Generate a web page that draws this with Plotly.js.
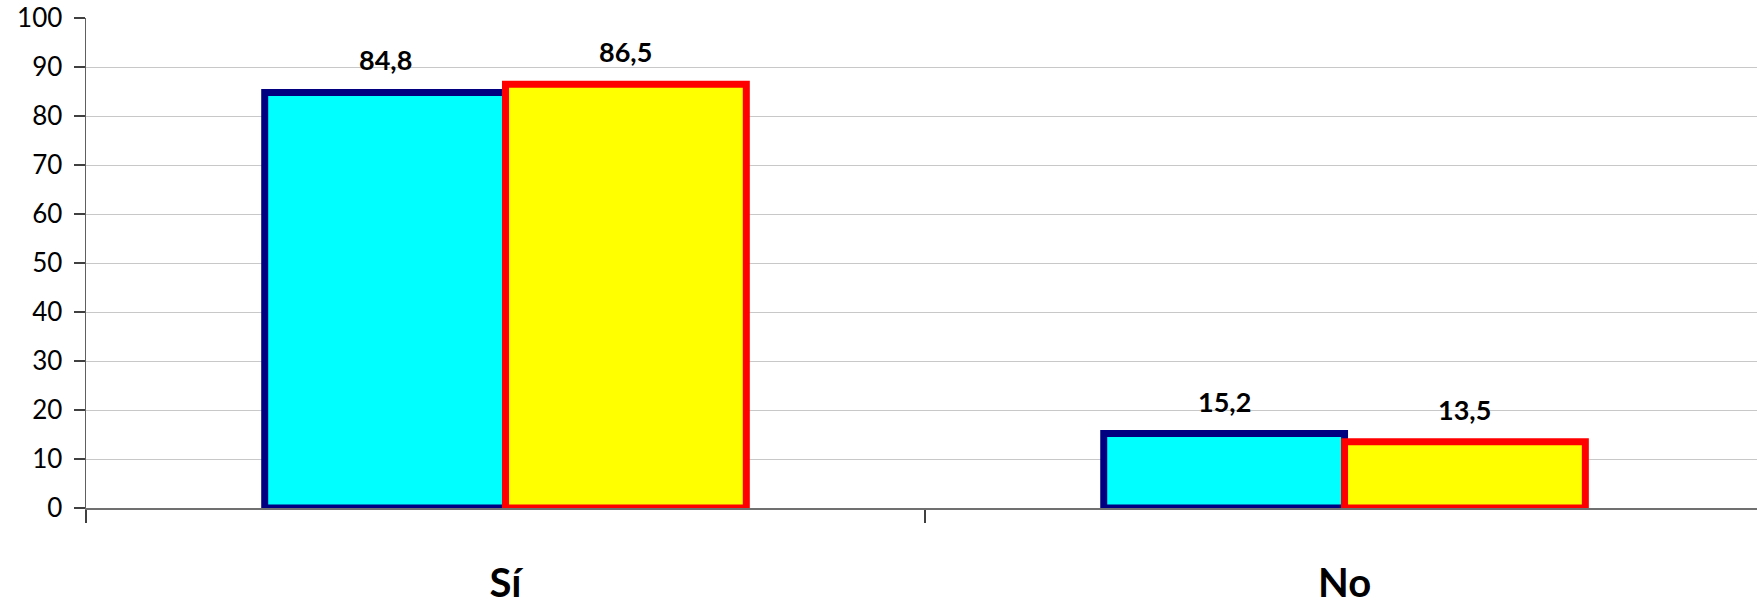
<!DOCTYPE html>
<html>
<head>
<meta charset="utf-8">
<script src="https://cdn.plot.ly/plotly-3.0.1.min.js"></script>
<style>html,body{margin:0;padding:0;background:#fff;}#chart{width:1757px;height:599px;}</style>
</head>
<body>
<div id="chart"></div>
<script>
const categories = ["Sí", "No"];
const series1 = [84.8, 15.2];
const series2 = [86.5, 13.5];
const seriesNames = ["Serie 1", "Serie 2"];
const yTicks = [0, 10, 20, 30, 40, 50, 60, 70, 80, 90, 100];

const barWidth = 0.287;
const labelFont = {family: "Lato, 'Open Sans', sans-serif", size: 27, color: "#000"};

const traces = [
  {type: "bar", name: seriesNames[0], x: categories, y: series1, width: barWidth, offset: -barWidth,
   marker: {color: "#00FFFF", line: {color: "#000080", width: 7}}, hoverinfo: "y"},
  {type: "bar", name: seriesNames[1], x: categories, y: series2, width: barWidth, offset: 0,
   marker: {color: "#FFFF00", line: {color: "#FF0000", width: 7}}, hoverinfo: "y"}
];

const annotations = [];
[series1, series2].forEach((s, k) => {
  s.forEach((v, i) => {
    annotations.push({
      x: i + (k === 0 ? -barWidth / 2 : barWidth / 2), xref: "x",
      y: v, yref: "y", yanchor: "bottom", yshift: 14,
      text: "<b>" + v.toFixed(1).replace(".", ",") + "</b>",
      showarrow: false, font: labelFont
    });
  });
});

const layout = {
  width: 1757, height: 599,
  margin: {l: 86, r: 0, t: 18, b: 90.5},
  paper_bgcolor: "#fff", plot_bgcolor: "#fff",
  showlegend: false,
  separators: ",.",
  barmode: "overlay",
  xaxis: {
    type: "category", range: [-0.5, 1.4916],
    tickson: "boundaries", ticks: "outside", ticklen: 13, tickcolor: "#404040", tickwidth: 1.5,
    showline: true, linecolor: "#707070", linewidth: 2,
    showgrid: false, zeroline: false,
    tickfont: {family: "Lato, 'Open Sans', sans-serif", size: 40, color: "#000", weight: "bold"},
    ticklabelstandoff: 39
  },
  yaxis: {
    range: [0, 100], tickvals: yTicks, ticktext: yTicks.map(String),
    ticks: "outside", ticklen: 11, tickcolor: "#404040", tickwidth: 1.5,
    showline: true, linecolor: "#606060", linewidth: 1.5,
    showgrid: true, gridcolor: "#c8c8c8", gridwidth: 1,
    zeroline: false,
    tickfont: {family: "Lato, 'Open Sans', sans-serif", size: 26, color: "#000"},
    ticklabelstandoff: 6
  },
  annotations: annotations
};

Plotly.newPlot("chart", traces, layout, {staticPlot: true, displayModeBar: false});
</script>
</body>
</html>
